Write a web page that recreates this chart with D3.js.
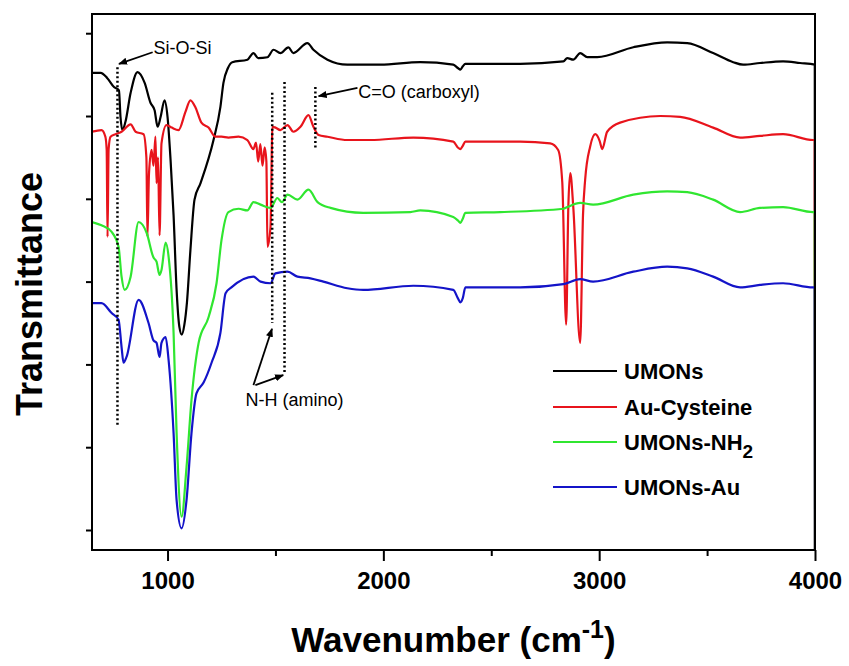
<!DOCTYPE html>
<html>
<head>
<meta charset="utf-8">
<script src="https://cdn.jsdelivr.net/npm/d3@7"></script>
<style>
  body { margin: 0; background: #fff; }
  svg { display: block; font-family: Arial, "Liberation Sans", sans-serif; }
</style>
</head>
<body>
<svg id="chart"></svg>
<script>
// FTIR spectra, values: [wavenumber (cm-1), transmittance (a.u., one unit per y tick)]
var umons = [
  [650,5.52],[690,5.52],[720,5.46],[752,5.35],[775,5.31],[782,4.99],[791,4.83],[805,4.93],[829,5.28],[861,5.53],
  [894,5.40],[921,5.16],[940,5.07],[954,4.87],[968,4.99],[986,5.19],[1000,4.99],[1014,4.47],[1028,3.80],[1042,2.90],
  [1055,2.45],[1066,2.36],[1078,2.48],[1090,2.75],[1106,3.38],[1125,3.99],[1153,4.19],[1213,4.71],[1245,5.11],[1259,5.40],
  [1280,5.58],[1300,5.65],[1370,5.68],[1398,5.76],[1420,5.70],[1463,5.71],[1491,5.80],[1523,5.76],[1560,5.83],[1583,5.76],
  [1648,5.88],[1676,5.80],[1741,5.68],[1833,5.62],[1986,5.62],[2171,5.65],[2324,5.62],[2345,5.58],[2357,5.56],[2368,5.60],
  [2380,5.63],[2634,5.63],[2834,5.66],[2852,5.70],[2880,5.68],[2912,5.76],[2945,5.71],[2991,5.71],[3158,5.83],[3315,5.89],
  [3408,5.88],[3528,5.76],[3621,5.65],[3667,5.62],[3745,5.64],[3852,5.66],[3931,5.64],[3999,5.62],[4000,-0.5]
];

var auCysteine = [
  [650,4.81],[694,4.83],[712,4.75],[718,4.59],[722,3.54],[727,4.60],[736,4.75],[759,4.78],[787,4.81],[829,4.90],
  [852,4.81],[889,4.78],[902,4.50],[907,3.54],[914,4.30],[926,4.59],[935,4.40],[944,4.75],[949,4.19],[956,4.50],
  [963,3.56],[972,4.67],[995,4.89],[1019,4.86],[1051,4.83],[1083,5.05],[1106,5.19],[1130,5.10],[1157,4.92],[1190,4.86],
  [1222,4.75],[1250,4.75],[1282,4.74],[1329,4.75],[1370,4.71],[1398,4.60],[1410,4.68],[1420,4.45],[1430,4.66],[1440,4.40],
  [1450,4.62],[1458,4.45],[1463,3.42],[1477,3.66],[1486,4.87],[1500,4.86],[1523,4.83],[1556,4.89],[1583,4.81],[1616,4.87],
  [1653,5.01],[1676,4.87],[1700,4.77],[1741,4.75],[1833,4.71],[1940,4.71],[2139,4.74],[2324,4.69],[2345,4.62],[2357,4.60],
  [2368,4.64],[2380,4.69],[2634,4.69],[2773,4.67],[2810,4.59],[2829,4.20],[2847,2.48],[2857,3.90],[2866,4.31],[2880,3.90],
  [2912,2.26],[2925,3.80],[2935,4.23],[2958,4.63],[2982,4.78],[3002,4.70],[3014,4.60],[3037,4.81],[3097,4.92],[3283,5.00],
  [3375,4.99],[3528,4.86],[3653,4.74],[3745,4.76],[3852,4.78],[3991,4.71],[3999,4.71],[4000,-0.5]
];

var umonsNH2 = [
  [650,3.72],[694,3.68],[741,3.60],[773,3.42],[787,3.06],[801,2.90],[829,3.06],[866,3.72],[903,3.59],[935,3.29],
  [949,3.24],[963,3.08],[972,3.14],[991,3.47],[1005,3.30],[1028,2.38],[1042,1.17],[1065,0.16],[1088,0.76],[1111,1.57],
  [1144,2.26],[1190,2.57],[1227,2.98],[1250,3.50],[1282,3.84],[1329,3.88],[1370,3.86],[1398,3.96],[1431,3.93],[1477,3.89],
  [1509,4.01],[1530,3.96],[1556,4.05],[1602,3.99],[1653,4.11],[1695,3.96],[1755,3.89],[1907,3.83],[2125,3.84],[2171,3.86],
  [2324,3.78],[2345,3.74],[2357,3.71],[2368,3.76],[2380,3.83],[2542,3.84],[2834,3.88],[2852,3.90],[2912,3.95],[2972,3.93],
  [3158,4.05],[3315,4.09],[3408,4.08],[3528,3.99],[3653,3.84],[3745,3.89],[3852,3.90],[3991,3.84],[3999,3.84],[4000,-0.5]
];

var umonsAu = [
  [650,2.74],[694,2.74],[741,2.62],[773,2.54],[787,2.21],[796,2.02],[810,2.09],[866,2.78],[912,2.50],[935,2.29],
  [949,2.26],[963,2.09],[972,2.26],[991,2.33],[1005,2.05],[1028,1.17],[1042,0.36],[1065,0.02],[1088,0.36],[1111,1.17],
  [1134,1.65],[1167,1.78],[1204,2.02],[1245,2.38],[1269,2.86],[1296,2.93],[1398,3.06],[1431,3.00],[1477,2.98],[1500,3.10],
  [1556,3.12],[1602,3.06],[1662,3.04],[1722,3.00],[1833,2.92],[1907,2.90],[2139,2.95],[2324,2.90],[2345,2.80],[2357,2.75],
  [2368,2.80],[2380,2.93],[2634,2.93],[2834,2.97],[2912,3.03],[2972,3.00],[3158,3.12],[3315,3.18],[3408,3.16],[3528,3.06],
  [3653,2.93],[3745,2.96],[3852,2.98],[3991,2.93],[3999,2.93],[4000,-0.5]
];

var seriesNames = ["UMONs", "Au-Cysteine", "UMONs-NH2", "UMONs-Au"];
var seriesColors = ["#000000", "#e8141c", "#30e630", "#1414c8"];

var xTickValues = [1000, 1500, 2000, 2500, 3000, 3500, 4000];
var xTickLabels = ["1000", "", "2000", "", "3000", "", "4000"];
var yTickValues = [0, 1, 2, 3, 4, 5, 6];

// dotted marker lines: [wavenumber, T from, T to]
var markerLines = [[768, 5.59, 1.24], [1485, 5.28, 2.50], [1542, 5.41, 1.90], [1685, 5.35, 4.61]];

var width = 849,
    height = 666,
    margin = {top: 14, right: 34, bottom: 116, left: 92},
    innerwidth = width - margin.left - margin.right,
    innerheight = height - margin.top - margin.bottom;

var xScale = d3.scaleLinear().domain([650, 4000]).range([0, innerwidth]);
var yScale = d3.scaleLinear().domain([-0.2415, 6.232]).range([innerheight, 0]);

var svg = d3.select("#chart").attr("width", width).attr("height", height);

var defs = svg.append("defs");
defs.append("clipPath").attr("id", "plotclip")
    .append("rect").attr("width", innerwidth).attr("height", innerheight);
defs.append("marker")
    .attr("id", "arrow")
    .attr("viewBox", "0 0 10 10")
    .attr("refX", 9).attr("refY", 5)
    .attr("markerWidth", 5).attr("markerHeight", 5)
    .attr("orient", "auto")
    .append("path").attr("d", "M0,1 L10,5 L0,9 Z").attr("fill", "#000");

var wrapper = svg.append("g")
    .attr("transform", "translate(" + margin.left + "," + margin.top + ")");

// spectra
var line = d3.line()
    .x(function(d) { return xScale(d[0]); })
    .y(function(d) { return yScale(d[1]); })
    .curve(d3.curveMonotoneX);

var allSeries = [umons, auCysteine, umonsNH2, umonsAu];

wrapper.append("g")
    .attr("clip-path", "url(#plotclip)")
    .selectAll("path")
    .data(allSeries)
    .enter()
    .append("path")
    .attr("d", line)
    .attr("fill", "none")
    .attr("stroke", function(d, i) { return seriesColors[i]; })
    .attr("stroke-width", 2.2)
    .attr("stroke-linejoin", "round");

// dotted marker lines
wrapper.selectAll(".marker")
    .data(markerLines)
    .enter()
    .append("line")
    .attr("class", "marker")
    .attr("x1", function(d) { return xScale(d[0]); })
    .attr("x2", function(d) { return xScale(d[0]); })
    .attr("y1", function(d) { return yScale(d[1]); })
    .attr("y2", function(d) { return yScale(d[2]); })
    .attr("stroke", "#000")
    .attr("stroke-width", 2.5)
    .attr("stroke-dasharray", "2,2.5");

// annotation arrows: [wn from, T from, wn to, T to]
var arrows = [[931, 5.77, 775, 5.63], [1880, 5.34, 1700, 5.24], [1398, 1.75, 1484, 2.43], [1407, 1.75, 1536, 1.87]];
wrapper.selectAll(".arrow")
    .data(arrows)
    .enter()
    .append("line")
    .attr("class", "arrow")
    .attr("x1", function(d) { return xScale(d[0]); })
    .attr("y1", function(d) { return yScale(d[1]); })
    .attr("x2", function(d) { return xScale(d[2]); })
    .attr("y2", function(d) { return yScale(d[3]); })
    .attr("stroke", "#000")
    .attr("stroke-width", 1.8)
    .attr("marker-end", "url(#arrow)");

var notes = [
  {text: "Si-O-Si", wn: 1069, t: 5.82, anchor: "middle"},
  {text: "C=O (carboxyl)", wn: 1884, t: 5.29, anchor: "start"},
  {text: "N-H (amino)", wn: 1588, t: 1.57, anchor: "middle"}
];
wrapper.selectAll(".note")
    .data(notes)
    .enter()
    .append("text")
    .attr("class", "note")
    .attr("x", function(d) { return xScale(d.wn); })
    .attr("y", function(d) { return yScale(d.t); })
    .attr("dy", "0.35em")
    .attr("text-anchor", function(d) { return d.anchor; })
    .style("font-size", "18px")
    .text(function(d) { return d.text; });

// axes
var xAxis = d3.axisBottom(xScale)
    .tickValues(xTickValues)
    .tickSize(0)
    .tickFormat(function(d, i) { return xTickLabels[i]; });

var gx = wrapper.append("g")
    .attr("transform", "translate(0," + innerheight + ")")
    .call(xAxis);
gx.select(".domain").remove();
gx.selectAll(".tick line")
    .attr("y2", function(d, i) { return xTickLabels[i] ? 11 : 6; })
    .attr("stroke", "#000")
    .attr("stroke-width", 2);
gx.selectAll(".tick text")
    .attr("y", 22)
    .attr("dy", "0.71em")
    .style("font-size", "24px")
    .style("font-weight", "bold")
    .attr("fill", "#000");

var yAxis = d3.axisLeft(yScale).tickValues(yTickValues).tickSize(6).tickFormat("");
var gy = wrapper.append("g").call(yAxis);
gy.select(".domain").remove();
gy.selectAll(".tick line").attr("stroke", "#000").attr("stroke-width", 2);

// frame
wrapper.append("rect")
    .attr("width", innerwidth)
    .attr("height", innerheight)
    .attr("fill", "none")
    .attr("stroke", "#000")
    .attr("stroke-width", 2);

// legend
var legend = wrapper.append("g")
    .attr("transform", "translate(" + (innerwidth - 262) + "," + (innerheight - 179) + ")");
var legendRows = [0, 36, 71, 116];
var items = legend.selectAll(".item")
    .data(seriesNames)
    .enter()
    .append("g")
    .attr("class", "item")
    .attr("transform", function(d, i) { return "translate(0," + legendRows[i] + ")"; });
items.append("line")
    .attr("x1", 0).attr("x2", 64)
    .attr("stroke", function(d, i) { return seriesColors[i]; })
    .attr("stroke-width", 2.2);
var ltext = items.append("text")
    .attr("x", 71)
    .attr("dy", "0.36em")
    .style("font-size", "22px")
    .style("font-weight", "bold");
ltext.each(function(d) {
    var t = d3.select(this);
    if (d === "UMONs-NH2") {
        t.append("tspan").text("UMONs-NH");
        t.append("tspan").attr("dy", 8).style("font-size", "19px").text("2");
    } else {
        t.text(d);
    }
});

// axis titles
var xt = svg.append("text")
    .attr("x", margin.left + innerwidth / 2)
    .attr("y", 652)
    .attr("text-anchor", "middle")
    .style("font-size", "35px")
    .style("font-weight", "bold");
xt.append("tspan").text("Wavenumber (cm");
xt.append("tspan").attr("dy", -14).style("font-size", "25px").text("-1");
xt.append("tspan").attr("dy", 14).text(")");

svg.append("text")
    .attr("transform", "translate(42," + (margin.top + 280) + ") rotate(-90)")
    .attr("text-anchor", "middle")
    .style("font-size", "36px")
    .style("font-weight", "bold")
    .text("Transmittance");
</script>
</body>
</html>
